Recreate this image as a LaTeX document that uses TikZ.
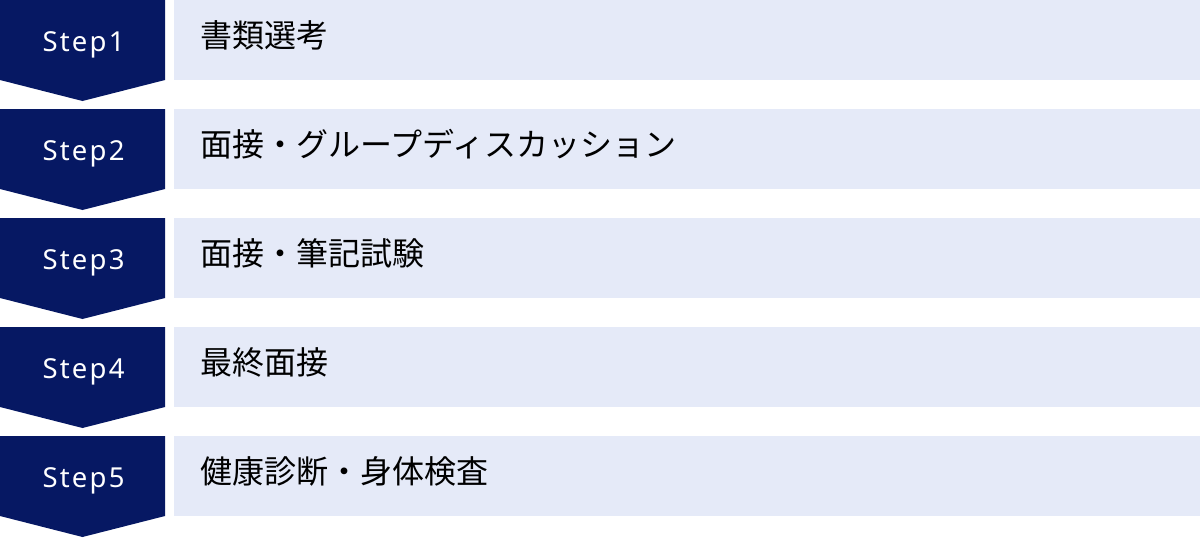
\documentclass[tikz,border=0pt]{standalone}
\usepackage{fontspec}
\setmainfont{Noto Sans CJK JP}
\newfontfamily\stepfont[LetterSpace=8]{Noto Sans}
\definecolor{navy}{HTML}{061863}
\definecolor{pale}{HTML}{E5EAF8}
\begin{document}
\begin{tikzpicture}[x=1pt,y=-1pt,
  stepfill/.style={fill=navy},
  itemfill/.style={fill=pale},
  steplabel/.style={text=white,font=\stepfont\fontsize{27.5}{30}\selectfont,anchor=base,inner sep=0pt},
  itemlabel/.style={text=black,font=\fontsize{32}{36}\selectfont,anchor=base west,inner sep=0pt}]
\useasboundingbox (0,0) rectangle (1200,538);
\foreach \i/\t in {1/書類選考,2/面接・グループディスカッション,3/面接・筆記試験,4/最終面接,5/健康診断・身体検査}{
  \pgfmathsetmacro{\top}{109*(\i-1)}
  \fill[stepfill] (0,\top) -- (165,\top) -- (165,\top+80) -- (82.5,\top+101) -- (0,\top+80) -- cycle;
  \fill[itemfill] (174,\top) rectangle (1200,\top+80);
  \node[steplabel] (s\i) at (83.5,\top+51) {Step\i};
  \node[itemlabel] (t\i) at (200,\top+47.5) {\t};
}
\end{tikzpicture}
\end{document}
